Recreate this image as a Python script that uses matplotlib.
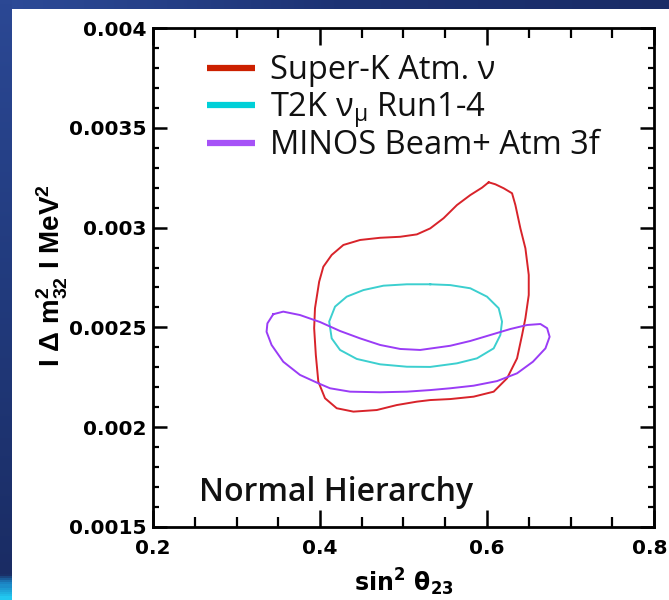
import matplotlib.pyplot as plt
import numpy as np
from matplotlib.colors import LinearSegmentedColormap
from matplotlib.ticker import MultipleLocator
from matplotlib.transforms import ScaledTranslation

plt.rcParams['mathtext.default'] = 'regular'
plt.rcParams['xtick.direction'] = 'in'
plt.rcParams['ytick.direction'] = 'in'
plt.rcParams['xtick.top'] = True
plt.rcParams['ytick.right'] = True

# 90% CL contours: x = sin^2 theta23, y = |dm^2_32| (eV^2)
sk_x = [0.602, 0.610, 0.620, 0.630, 0.634, 0.640, 0.646, 0.650, 0.650, 0.646,
        0.642, 0.636, 0.624, 0.608, 0.584, 0.556, 0.532, 0.516, 0.492, 0.468,
        0.440, 0.420, 0.406, 0.398, 0.395, 0.393, 0.394, 0.399, 0.404, 0.414,
        0.428, 0.448, 0.472, 0.496, 0.516, 0.532, 0.548, 0.564, 0.580, 0.594]
sk_y = [0.003227, 0.003217, 0.003197, 0.003172, 0.003113, 0.002996, 0.002896, 0.002763, 0.002662, 0.002546,
        0.002462, 0.002345, 0.002245, 0.002178, 0.002153, 0.002141, 0.002136, 0.002128, 0.002111, 0.002086,
        0.002078, 0.002095, 0.002145, 0.002228, 0.002362, 0.002496, 0.002596, 0.002729, 0.002804, 0.002863,
        0.002913, 0.002938, 0.002949, 0.002954, 0.002966, 0.002996, 0.003047, 0.003113, 0.003163, 0.003200]

t2k_x = [0.532, 0.556, 0.580, 0.600, 0.614, 0.618, 0.616, 0.608, 0.588, 0.564, 0.532,
         0.504, 0.472, 0.444, 0.424, 0.414, 0.411, 0.418, 0.432, 0.452, 0.476, 0.504]
t2k_y = [0.002716, 0.002712, 0.002696, 0.002654, 0.002596, 0.002529, 0.002462, 0.002395, 0.002345, 0.002320, 0.002302,
         0.002303, 0.002315, 0.002342, 0.002387, 0.002445, 0.002529, 0.002604, 0.002654, 0.002687, 0.002709, 0.002716]

minos_x = [0.344, 0.356, 0.376, 0.400, 0.424, 0.448, 0.472, 0.496, 0.520, 0.556, 0.580, 0.604,
           0.628, 0.648, 0.664, 0.672, 0.675, 0.670, 0.655, 0.636, 0.612, 0.584, 0.556, 0.532,
           0.504, 0.472, 0.436, 0.412, 0.398, 0.376, 0.356, 0.342, 0.336, 0.337]
minos_y = [0.002566, 0.002579, 0.002562, 0.002527, 0.002482, 0.002445, 0.002412, 0.002392, 0.002387, 0.002408, 0.002432, 0.002462,
           0.002492, 0.002512, 0.002517, 0.002496, 0.002453, 0.002395, 0.002328, 0.002270, 0.002231, 0.002208, 0.002195, 0.002186,
           0.002178, 0.002175, 0.002178, 0.002195, 0.002220, 0.002262, 0.002328, 0.002412, 0.002478, 0.002520]

labels = ['Super-K Atm. ν', 'T2K ν$_{\\mu}$ Run1-4', 'MINOS Beam+ Atm 3f']
line_colors = ['#d8232a', '#3ccfcf', '#9a3cf6']
legend_colors = ['#cc2000', '#00d0d8', '#a652f7']

xticks = [0.2, 0.4, 0.6, 0.8]
xtick_labels = ['0.2', '0.4', '0.6', '0.8']
yticks = [0.0015, 0.002, 0.0025, 0.003, 0.0035, 0.004]
ytick_labels = ['0.0015', '0.002', '0.0025', '0.003', '0.0035', '0.004']

fig = plt.figure(figsize=(6.69, 6.0), dpi=100)
fig.patch.set_facecolor('white')

# slide frame (dark blue strips, top and left)
top = fig.add_axes([0, 1 - 9 / 600, 1, 9 / 600])
top.imshow(np.linspace(0, 1, 200)[None, :], aspect='auto',
           cmap=LinearSegmentedColormap.from_list('t', ['#2d4b98', '#1d3374', '#1a2c66']))
top.axis('off')
left = fig.add_axes([0, 0, 12 / 669, 1])
left.imshow(np.linspace(0, 1, 300)[:, None], aspect='auto',
            cmap=LinearSegmentedColormap.from_list('l', [(0, '#2b4894'), (0.5, '#213a7c'),
                                                         (0.96, '#1a2c64'), (0.975, '#1b7fc0'), (1, '#22c8f0')]))
left.axis('off')

ax = fig.add_axes([153 / 669, 73 / 600, 501 / 669, 499 / 600])

ax.plot(sk_x + sk_x[:1], sk_y + sk_y[:1], color=line_colors[0], lw=1.4, solid_joinstyle='round')
ax.plot(t2k_x + t2k_x[:1], t2k_y + t2k_y[:1], color=line_colors[1], lw=1.4, solid_joinstyle='round')
ax.plot(minos_x + minos_x[:1], minos_y + minos_y[:1], color=line_colors[2], lw=1.4, solid_joinstyle='round')

# legend drawn by hand
for i, (lab, c) in enumerate(zip(labels, legend_colors)):
    yy = [0.9198, 0.8457, 0.7695][i]
    ax.plot([0.108, 0.204], [yy, yy], color=c, lw=4.5, transform=ax.transAxes, solid_capstyle='butt')
    ax.text(0.2335, yy - 0.023, lab, transform=ax.transAxes, fontsize=23.5,
            family='Open Sans', va='baseline', ha='left', color='#111111')

ax.text(0.092, 0.0527, 'Normal Hierarchy', transform=ax.transAxes, fontsize=23,
        family='Open Sans', fontweight='semibold', va='baseline', ha='left', color='#111111')

ax.set_xlim(0.2, 0.8)
ax.set_ylim(0.0015, 0.004)
ax.set_xticks(xticks)
ax.set_xticklabels(xtick_labels, fontsize=14.5, fontweight='bold')
ax.set_yticks(yticks)
ax.set_yticklabels(ytick_labels, fontsize=14.5, fontweight='bold')
ax.xaxis.set_minor_locator(MultipleLocator(0.05))
ax.yaxis.set_minor_locator(MultipleLocator(0.0001))
ax.tick_params(which='both', direction='in', top=True, right=True, bottom=True, left=True, color='black')
ax.tick_params(axis='x', which='major', length=12, width=1.8, pad=9)
ax.tick_params(axis='x', which='minor', length=7.5, width=1.6)
ax.tick_params(axis='y', which='major', length=10, width=1.8, pad=5)
ax.tick_params(axis='y', which='minor', length=4.5, width=1.6)
for s in ax.spines.values():
    s.set_linewidth(2.0)

# last x label sits at the picture edge, nudge it in a little
lab08 = ax.get_xticklabels()[-1]
lab08.set_transform(lab08.get_transform() + ScaledTranslation(-4 / 100, 0, fig.dpi_scale_trans))

ax.set_xlabel('sin$^2$ θ$_{23}$', fontsize=17, fontweight='bold')
ax.xaxis.set_label_coords(0.5, -0.08)
ax.set_ylabel('I Δ m$^2_{32}$ I MeV$^2$', fontsize=20, fontweight='bold', family='Liberation Sans')
ax.yaxis.set_label_coords(-0.166, 0.504)

fig.savefig('out.png', dpi=100)
